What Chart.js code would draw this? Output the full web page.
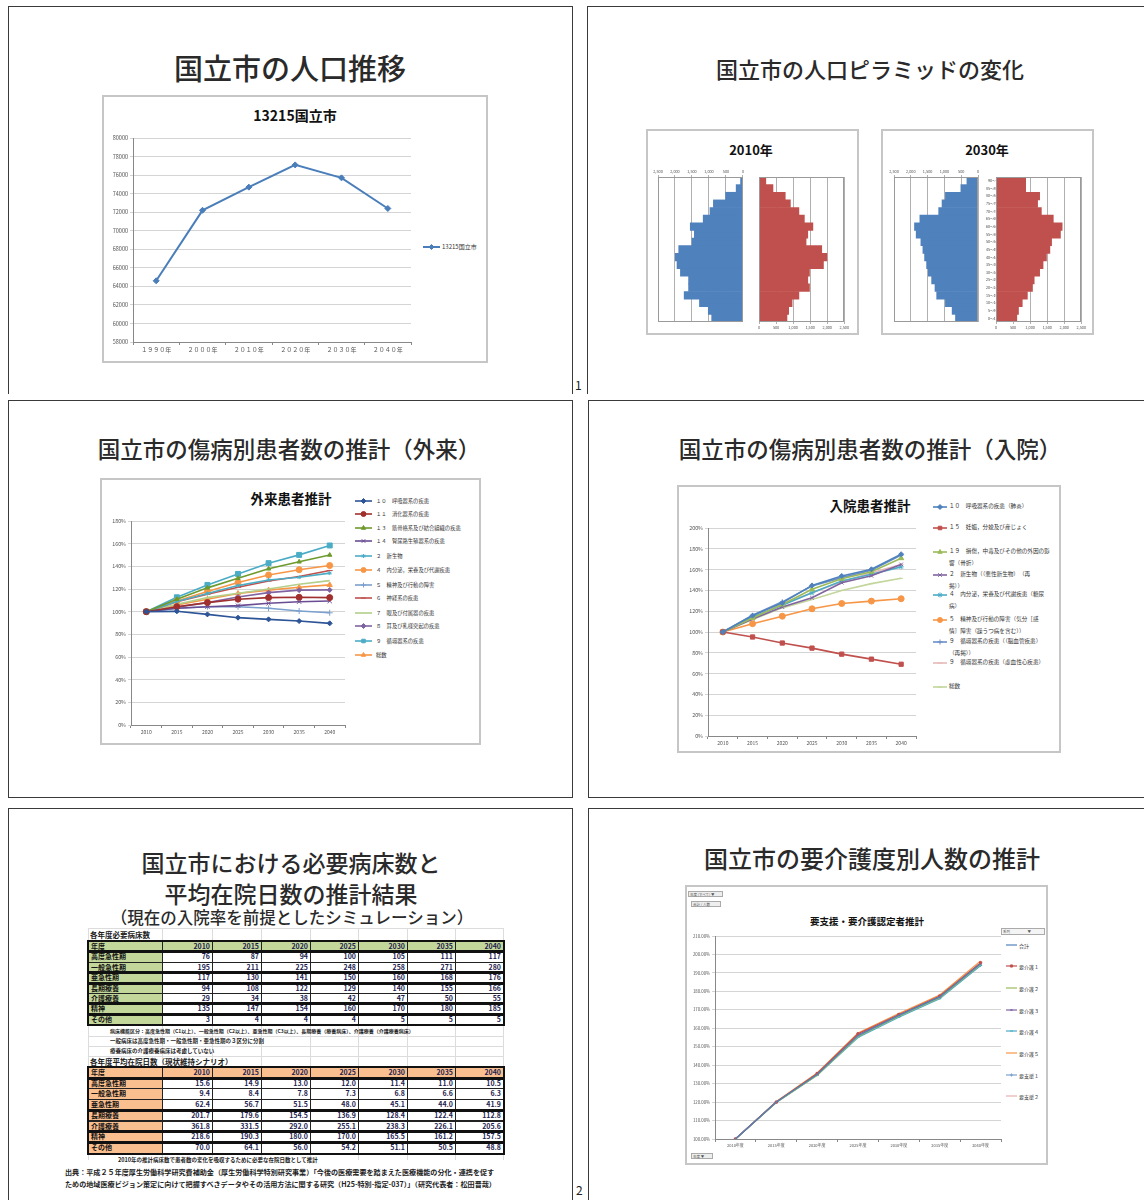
<!DOCTYPE html>
<html lang="ja">
<head>
<meta charset="UTF-8">
<meta name="viewport" content="width=device-width, initial-scale=1.0">
<title>国立市の人口・医療・介護推計</title>
<script src="https://cdn.jsdelivr.net/npm/chart.js"></script>
<style>
  body { margin: 0; background: #fff; }
  #page { position: relative; width: 1144px; height: 1200px; overflow: hidden; font-family: "Noto Sans CJK JP", sans-serif; color: #222; }
  #page div, #page canvas { position: absolute; }
  .slide { border: 1.5px solid #3a3a3a; box-sizing: border-box; }
  .head { transform: translate(-50%, -50%); white-space: nowrap; font-weight: 500; color: #2a2a2a; }
  .frame { border: 2px solid #c6c6c6; box-sizing: border-box; background: #fff; }
  .ctitle { transform: translate(-50%, -50%); white-space: nowrap; font-weight: 700; color: #111; }
  .lg { white-space: pre; color: #333; }
  .cell { box-sizing: border-box; border: 1px solid #222; font-weight: 700; font-size: 7px; line-height: 9px; padding: 0 2px; text-align: right; color: #1d1d4f; overflow: hidden; white-space: nowrap; background: #fff; }
  .note { white-space: nowrap; font-weight: 700; color: #222; }
  .btn { box-sizing: border-box; border: 1px solid #aaa; background: #eee; font-size: 3.5px; line-height: 5px; color: #555; padding-left: 1px; white-space: nowrap; }
</style>
</head>
<body>
<div id="page">
  <!-- slide frames -->
  <div class="slide" style="left:8px;top:6px;width:565px;height:388px;border-bottom:none"></div>
  <div class="slide" style="left:587px;top:6px;width:570px;height:388px;border-bottom:none"></div>
  <div class="slide" style="left:8px;top:400px;width:565px;height:398px"></div>
  <div class="slide" style="left:588px;top:400px;width:570px;height:398px"></div>
  <div class="slide" style="left:8px;top:808px;width:565px;height:400px"></div>
  <div class="slide" style="left:588px;top:808px;width:570px;height:400px"></div>
  <div style="left:575px;top:376px;font-size:12px">1</div>
  <div style="left:576px;top:1181px;font-size:12px">2</div>

  <!-- slide headings -->
  <div class="head" style="left:290px;top:67px;font-size:29px">国立市の人口推移</div>
  <div class="head" style="left:870px;top:68px;font-size:22px">国立市の人口ピラミッドの変化</div>
  <div class="head" style="left:289px;top:448px;font-size:22.5px">国立市の傷病別患者数の推計（外来）</div>
  <div class="head" style="left:870px;top:448px;font-size:22.5px">国立市の傷病別患者数の推計（入院）</div>
  <div class="head" style="left:291px;top:862px;font-size:23px">国立市における必要病床数と</div>
  <div class="head" style="left:291px;top:893px;font-size:23px">平均在院日数の推計結果</div>
  <div class="head" style="left:292px;top:917px;font-size:16.5px">（現在の入院率を前提としたシミュレーション）</div>
  <div class="head" style="left:872px;top:857px;font-size:24px">国立市の要介護度別人数の推計</div>

  <!-- chart frames -->
  <div class="frame" style="left:102px;top:95px;width:386px;height:268px"></div>
  <div class="frame" style="left:646px;top:129px;width:213px;height:206px"></div>
  <div class="frame" style="left:881px;top:129px;width:213px;height:206px"></div>
  <div class="frame" style="left:100px;top:478px;width:381px;height:267px"></div>
  <div class="frame" style="left:677px;top:485px;width:384px;height:268px"></div>
  <div class="frame" style="left:685px;top:885px;width:363px;height:280px"></div>

  <div class="ctitle" style="left:295px;top:115px;font-size:14px">13215国立市</div>
  <div class="ctitle" style="left:751px;top:149px;font-size:13px">2010年</div>
  <div class="ctitle" style="left:987px;top:149px;font-size:13px">2030年</div>
  <div class="ctitle" style="left:291px;top:498px;font-size:13.5px">外来患者推計</div>
  <div class="ctitle" style="left:870px;top:505px;font-size:13.5px">入院患者推計</div>
  <div class="ctitle" style="left:867px;top:921px;font-size:9.5px">要支援・要介護認定者推計</div>

  <div class="btn" style="left:688px;top:891px;width:35px;height:6px">年度 (すべて) ▼</div>
  <div class="btn" style="left:691px;top:901px;width:30px;height:6px">合計 / 人数</div>
  <div class="btn" style="left:691px;top:1153px;width:22px;height:6px">年度 ▼</div>
  <div class="btn" style="left:1001px;top:928px;width:44px;height:7px;background:#f4f4f4">系列　　　　　▼</div>
</div>

<script>
// 人口推移（国立市）
const popYears = ['１９９０年', '２０００年', '２０１０年', '２０２０年', '２０３０年', '２０４０年'];
const popValues = [64600, 72200, 74700, 77100, 75700, 72400];

// 人口ピラミッド（上から高齢階級）
const ageGroups = ['90～', '85～89', '80～84', '75～79', '70～74', '65～69', '60～64', '55～59', '50～54',
  '45～49', '40～44', '35～39', '30～34', '25～29', '20～24', '15～19', '10～14', '5～9', '0～4'];
const male2010 = [70, 200, 510, 870, 970, 1170, 1550, 1430, 1500, 1890, 1990, 1940, 1840, 1600, 1600, 1730, 1280, 1020, 920];
const female2010 = [200, 410, 770, 920, 1170, 1330, 1580, 1430, 1380, 1840, 1990, 1890, 1480, 1430, 1480, 1170, 970, 870, 820];
const male2030 = [330, 510, 970, 1070, 1170, 1730, 1890, 1840, 1700, 1640, 1590, 1530, 1480, 1380, 1280, 1230, 970, 770, 670];
const female2030 = [870, 870, 1280, 1220, 1330, 1680, 1940, 1890, 1630, 1580, 1480, 1380, 1280, 1120, 1070, 920, 770, 660, 610];

// 傷病別患者数（2010年=100%）
const projYears = ['2010', '2015', '2020', '2025', '2030', '2035', '2040'];
const outNames = ['１０　呼吸器系の疾患', '１１　消化器系の疾患', '１３　筋骨格系及び結合組織の疾患', '１４　腎尿路生殖器系の疾患',
  '２　新生物', '４　内分泌，栄養及び代謝疾患', '５　精神及び行動の障害', '６　神経系の疾患',
  '７　眼及び付属器の疾患', '８　耳及び乳様突起の疾患', '９　循環器系の疾患', '総数'];
const outValues = [
  [100, 100.3, 97.6, 94.7, 93.2, 91.7, 89.7],
  [100, 104.4, 108, 111, 112.4, 112.7, 112.4],
  [100, 111, 121, 129.5, 137.8, 144, 150],
  [100, 103, 104.4, 105.3, 107.4, 108.8, 109.4],
  [100, 109, 116, 123, 128, 130.4, 134],
  [100, 109.4, 117.7, 125.7, 132.4, 137, 140.7],
  [100, 103, 104.4, 104.4, 103, 100.6, 99],
  [100, 108.8, 115.3, 121.5, 127, 131, 136.3],
  [100, 106.5, 112.4, 116.2, 120, 124.2, 127.4],
  [100, 104, 108, 113, 116.8, 119, 119.2],
  [100, 112.7, 123.6, 133.3, 142.8, 150.1, 158.4],
  [100, 106, 111, 116, 119, 121.5, 123.6]
];
const inNames = ['１０　呼吸器系の疾患（肺炎）', '１５　妊娠，分娩及び産じょく',
  '１９　損傷，中毒及びその他の外因の影\n響（骨折）', '２　新生物（（悪性新生物）　（再\n掲））',
  '４　内分泌，栄養及び代謝疾患（糖尿\n病）', '５　精神及び行動の障害（気分［感\n情］障害（躁うつ病を含む））',
  '９　循環器系の疾患（（脳血管疾患）\n（再掲））', '９　循環器系の疾患（虚血性心疾患）', '総数'];
const inValues = [
  [100, 115.8, 128, 144.8, 153.9, 160.3, 174.8],
  [100, 95.2, 89.4, 84.5, 78.7, 73.9, 69],
  [100, 113.5, 126.5, 141, 151.3, 158, 171],
  [100, 112.6, 124, 133, 147.4, 154, 165],
  [100, 114.5, 125.8, 137.7, 149, 155.5, 162.6],
  [100, 108, 115.2, 122.3, 127.4, 129.7, 132],
  [100, 116.1, 129, 144.2, 152.3, 159.4, 173.9],
  [100, 113.5, 127, 137.7, 148.4, 157, 165],
  [100, 112, 123.2, 131.3, 140, 146.5, 151.6]
];

// 必要病床数・平均在院日数
const bedYears = ['2010', '2015', '2020', '2025', '2030', '2035', '2040'];
const bedTypes = ['高度急性期', '一般急性期', '亜急性期', '長期療養', '介護療養', '精神', 'その他'];
const bedCounts = [
  [76, 87, 94, 100, 105, 111, 117],
  [195, 211, 225, 248, 258, 271, 280],
  [117, 130, 141, 150, 160, 168, 176],
  [94, 108, 122, 129, 140, 155, 166],
  [29, 34, 38, 42, 47, 50, 55],
  [135, 147, 154, 160, 170, 180, 185],
  [3, 4, 4, 4, 5, 5, 5]
];
const stayDays = [
  [15.6, 14.9, 13.0, 12.0, 11.4, 11.0, 10.5],
  [9.4, 8.4, 7.8, 7.3, 6.8, 6.6, 6.3],
  [62.4, 56.7, 51.5, 48.0, 45.1, 44.0, 41.9],
  [201.7, 179.6, 154.5, 136.9, 128.4, 122.4, 112.8],
  [361.8, 331.5, 292.0, 255.1, 238.3, 226.1, 205.6],
  [218.6, 190.3, 180.0, 170.0, 165.5, 161.2, 157.5],
  [70.0, 64.1, 56.0, 54.2, 51.1, 50.5, 48.8]
];

// 要支援・要介護認定者（2010年=100%）
const careYears = ['2010年度', '2015年度', '2020年度', '2025年度', '2030年度', '2035年度', '2040年度'];
const careNames = ['合計', '要介護１', '要介護２', '要介護３', '要介護４', '要介護５', '要支援１', '要支援２'];
const careValues = [
  [100, 120, 135, 156, 167, 177, 195],
  [100, 120, 135.5, 157, 167.5, 177.5, 195.5],
  [100, 119.8, 134.5, 155.5, 166.5, 176.5, 194.5],
  [100, 120, 135, 156.5, 167, 177, 195],
  [100, 119.8, 134.5, 155, 166, 176, 194],
  [100, 120.3, 135.8, 157.5, 168, 178, 196.5],
  [100, 120, 134.8, 155.5, 166.5, 176.5, 194],
  [100, 120, 135, 156, 167, 177, 195.3]
];

Chart.defaults.font.family = '"Noto Sans CJK JP", "Noto Sans", sans-serif';
Chart.defaults.color = '#444';
Chart.defaults.animation = false;
Chart.defaults.responsive = false;
Chart.defaults.devicePixelRatio = 1;
Chart.defaults.plugins.legend.display = false;
Chart.defaults.plugins.tooltip.enabled = false;

const page = document.getElementById('page');

function makeCanvas(x, y, w, h) {
  const c = document.createElement('canvas');
  c.width = w; c.height = h;
  c.style.left = x + 'px'; c.style.top = y + 'px';
  c.style.width = w + 'px'; c.style.height = h + 'px';
  page.appendChild(c);
  return c;
}

function addText(cls, x, y, text, css) {
  const d = document.createElement('div');
  d.className = cls;
  d.style.left = x + 'px'; d.style.top = y + 'px';
  Object.assign(d.style, css || {});
  d.textContent = text;
  page.appendChild(d);
  return d;
}

// Excel style line chart: categories between tick marks, horizontal gridlines only
function lineChart(box, labels, names, series, style, ax) {
  return new Chart(makeCanvas(box.x, box.y, box.w, box.h), {
    type: 'line',
    data: {
      labels: labels,
      datasets: names.map((n, i) => ({
        label: n, data: series[i],
        borderColor: style.colors[i], backgroundColor: style.colors[i],
        borderWidth: style.lw, pointStyle: style.markers[i], pointRadius: style.radii[i],
        pointBorderWidth: 1, tension: 0
      }))
    },
    options: {
      layout: { padding: ax.pad },
      scales: {
        x: {
          offset: true,
          grid: { offset: true, drawOnChartArea: false, tickLength: 3, color: '#888' },
          border: { color: '#888' },
          ticks: { font: { size: ax.xFont }, color: '#555', padding: 1, maxRotation: 0, autoSkip: false },
          afterFit: s => { s.height = ax.xH; }
        },
        y: {
          min: ax.min, max: ax.max,
          grid: { color: '#d4d4d4', tickLength: 3 },
          border: { color: '#888' },
          ticks: { stepSize: ax.step, font: { size: ax.yFont }, color: '#555', padding: 2, autoSkip: false, callback: ax.fmt },
          afterFit: s => { s.width = ax.yW; }
        }
      }
    }
  });
}

// legend rows drawn beside a chart from its datasets
function legend(chart, x, tops, o) {
  chart.data.datasets.forEach((ds, i) => {
    const c = makeCanvas(x, tops[i] - 4, o.sw, 8);
    const g = c.getContext('2d');
    g.strokeStyle = ds.borderColor; g.lineWidth = ds.borderWidth;
    g.beginPath(); g.moveTo(0, 4); g.lineTo(o.sw, 4); g.stroke();
    if (ds.pointRadius > 0 && Chart.helpers && Chart.helpers.drawPoint) {
      g.fillStyle = ds.backgroundColor; g.strokeStyle = ds.borderColor; g.lineWidth = 1;
      Chart.helpers.drawPoint(g, { pointStyle: ds.pointStyle, radius: Math.min(ds.pointRadius, 2.5), rotation: 0, borderWidth: 1 }, o.sw / 2, 4);
    }
    addText('lg', x + o.sw + o.gap, tops[i] - o.lh / 2, ds.label, { fontSize: o.fs + 'px', lineHeight: o.lh + 'px' });
  });
}

// outline of the plot area (pyramid charts)
const plotFrame = {
  id: 'plotFrame',
  afterDraw(chart) {
    const a = chart.chartArea, g = chart.ctx;
    g.save(); g.strokeStyle = '#9a9a9a'; g.lineWidth = 1;
    g.strokeRect(Math.round(a.left) + 0.5, Math.round(a.top) + 0.5, Math.round(a.right - a.left) - 1, Math.round(a.bottom - a.top) - 1);
    g.restore();
  }
};

// --- 人口推移 ---
const popChart = lineChart({ x: 100, y: 128, w: 316, h: 236 }, popYears, ['13215国立市'], [popValues],
  { colors: ['#4A7EBB'], markers: ['rectRot'], radii: [3], lw: 2 },
  { pad: { left: 0, right: 4, top: 10, bottom: 0 }, yW: 33, xH: 22, min: 58000, max: 80000, step: 2000,
    xFont: 6, yFont: 5.5, fmt: v => v });
legend(popChart, 423, [247], { sw: 17, gap: 2, fs: 6, lh: 8 });

// --- 人口ピラミッド ---
function pyramidSide(box, values, color, left, showAges) {
  const scales = {
    x: {
      min: 0, max: 2500, reverse: left, position: left ? 'top' : 'bottom',
      grid: { color: '#b0b0b0', tickLength: 2 },
      border: { display: false },
      ticks: { stepSize: 500, font: { size: 3.8 }, color: '#555', padding: 1, maxRotation: 0, autoSkip: false,
        callback: v => v.toLocaleString('en-US') },
      afterFit: s => { s.height = box.xH; }
    },
    y: {
      display: showAges, position: 'right',
      grid: { display: false }, border: { display: false },
      ticks: { font: { size: 3.6 }, color: '#444', padding: 0, crossAlign: 'center', autoSkip: false },
      afterFit: s => { s.width = showAges ? 19 : 0; }
    }
  };
  return new Chart(makeCanvas(box.x, box.y, box.w, box.h), {
    type: 'bar',
    data: { labels: ageGroups, datasets: [{ data: values, backgroundColor: color, borderWidth: 0, barPercentage: 1, categoryPercentage: 1 }] },
    options: { indexAxis: 'y', layout: { padding: box.pad }, scales: scales },
    plugins: [plotFrame]
  });
}
pyramidSide({ x: 648, y: 164, w: 97, h: 161, xH: 13, pad: { left: 10, right: 2, top: 0, bottom: 3 } }, male2010, '#4F81BD', true, false);
pyramidSide({ x: 755, y: 174, w: 95, h: 162, xH: 14, pad: { left: 4, right: 4, top: 3, bottom: 0 } }, female2010, '#C0504D', false, false);
pyramidSide({ x: 885, y: 164, w: 112, h: 161, xH: 13, pad: { left: 9, right: 0, top: 0, bottom: 3 } }, male2030, '#4F81BD', true, true);
pyramidSide({ x: 992, y: 174, w: 95, h: 162, xH: 14, pad: { left: 4, right: 5, top: 3, bottom: 0 } }, female2030, '#C0504D', false, false);

// --- 外来患者推計 ---
const outChart = lineChart({ x: 101, y: 510, w: 250, h: 232 }, projYears, outNames, outValues,
  { colors: ['#2C5496', '#A0302E', '#6E9A2E', '#6A4C93', '#4BACC6', '#F79646', '#7BA0CD', '#C0504D', '#B3CF8A', '#8064A2', '#4BACC6', '#F79646'],
    markers: ['rectRot', 'circle', 'triangle', 'crossRot', 'star', 'circle', 'cross', 'line', 'circle', 'rectRot', 'rect', 'triangle'],
    radii: [2.5, 3, 2.5, 3, 2, 3, 3, 3, 0, 2.5, 3.5, 3], lw: 1.6 },
  { pad: { left: 0, right: 6, top: 11, bottom: 0 }, yW: 30, xH: 17, min: 0, max: 180, step: 20,
    xFont: 5, yFont: 5.3, fmt: v => v + '%' });
legend(outChart, 355, [501, 514, 528, 541, 556, 570, 585, 598, 613, 626, 641, 655], { sw: 17, gap: 4, fs: 5.3, lh: 8 });

// --- 入院患者推計 ---
const inChart = lineChart({ x: 679, y: 517, w: 243, h: 233 }, projYears, inNames, inValues,
  { colors: ['#4F81BD', '#C0504D', '#9BBB59', '#8064A2', '#4BACC6', '#F79646', '#6A8FC8', '#E6B9B8', '#C3D69B'],
    markers: ['rectRot', 'rect', 'triangle', 'crossRot', 'star', 'circle', 'cross', 'line', 'line'],
    radii: [2.5, 3, 3, 2.5, 2.5, 3, 2.5, 2.5, 2], lw: 1.6 },
  { pad: { left: 0, right: 6, top: 11, bottom: 0 }, yW: 29, xH: 14, min: 0, max: 200, step: 20,
    xFont: 5, yFont: 5.3, fmt: v => v + '%' });
legend(inChart, 933, [507, 528, 552, 575, 595, 620, 642, 663, 687], { sw: 14, gap: 2, fs: 5.6, lh: 11.5 });

// --- 要支援・要介護認定者推計 ---
const careChart = lineChart({ x: 688, y: 928, w: 318, h: 224 }, careYears, careNames, careValues,
  { colors: ['#4F81BD', '#C0504D', '#9BBB59', '#8064A2', '#4BACC6', '#F79646', '#7C9FD0', '#E6B0AE'],
    markers: ['circle', 'rect', 'circle', 'crossRot', 'line', 'circle', 'cross', 'circle'],
    radii: [0, 1.5, 0, 1.5, 1.5, 0, 1.5, 0], lw: 1.2 },
  { pad: { left: 0, right: 5, top: 8, bottom: 0 }, yW: 27, xH: 13, min: 100, max: 210, step: 10,
    xFont: 4, yFont: 4.3, fmt: v => v.toFixed(2) + '%' });
legend(careChart, 1006, [945, 966, 988, 1010, 1031, 1053, 1075, 1096], { sw: 11, gap: 2, fs: 5, lh: 7 });

// --- 必要病床数・平均在院日数の表 ---
const colX = [88, 162, 212, 261, 310, 358, 407, 455, 503];

// spreadsheet gridlines behind the tables
colX.forEach(x => addText('', x, 928, '', { width: '1px', height: '232px', background: '#dcdcdc' }));
[928, 940, 1025, 1036, 1046, 1056, 1066].forEach(y => addText('', 88, y, '', { width: '416px', height: '1px', background: '#dcdcdc' }));

function sheet(top, rowH, fill, values, dec, groups) {
  const rows = [['年度'].concat(bedYears)].concat(bedTypes.map((t, i) => [t].concat(values[i].map(v => v.toFixed(dec)))));
  rows.forEach((r, i) => {
    r.forEach((v, j) => {
      const head = i === 0 || j === 0;
      addText('cell', colX[j], top + i * rowH, v, {
        width: (colX[j + 1] - colX[j] + 1) + 'px', height: (rowH + 1) + 'px',
        background: head ? fill : '#fff',
        textAlign: j === 0 ? 'left' : 'right',
        color: j === 0 ? '#111' : '#1d1d4f'
      });
    });
  });
  // thick outlines around row groups
  let r0 = 0;
  groups.forEach(n => {
    addText('', colX[0] - 1, top + r0 * rowH - 1, '', {
      width: (colX[8] - colX[0] + 3) + 'px', height: (n * rowH + 3) + 'px',
      border: '2px solid #111', boxSizing: 'border-box'
    });
    r0 += n;
  });
}

addText('note', 90, 930, '各年度必要病床数', { fontSize: '7.5px', lineHeight: '10px' });
sheet(941, 10.4, '#C4D79B', bedCounts, 0, [1, 2, 1, 2, 1, 1]);
addText('note', 110, 1026, '病床機能区分：高度急性期（C1以上）、一般急性期（C2以上）、亜急性期（C3以上）、長期療養（療養病床）、介護療養（介護療養病床）',
  { fontSize: '5px', lineHeight: '9px' });
addText('note', 110, 1037, '一般病床は高度急性期・一般急性期・亜急性期の３区分に分割', { fontSize: '5.5px', lineHeight: '9px' });
addText('note', 110, 1047, '療養病床の介護療養病床は考慮していない', { fontSize: '5.5px', lineHeight: '9px' });
addText('note', 90, 1057, '各年度平均在院日数（現状維持シナリオ）', { fontSize: '7.5px', lineHeight: '10px' });
sheet(1067, 10.7, '#FABF8F', stayDays, 1, [1, 3, 2, 1, 1]);
addText('note', 118, 1156, '2010年の推計病床数で患者数の変化を吸収するために必要な在院日数として推計', { fontSize: '5.5px', lineHeight: '8px' });
addText('note', 65, 1167, '出典：平成２５年度厚生労働科学研究費補助金（厚生労働科学特別研究事業）「今後の医療需要を踏まえた医療機能の分化・連携を促す', { fontSize: '7.1px', lineHeight: '10px' });
addText('note', 65, 1179, 'ための地域医療ビジョン策定に向けて把握すべきデータやその活用方法に関する研究（H25-特別-指定-037）」（研究代表者：松田晋哉）', { fontSize: '7.1px', lineHeight: '10px' });
</script>
</body>
</html>
